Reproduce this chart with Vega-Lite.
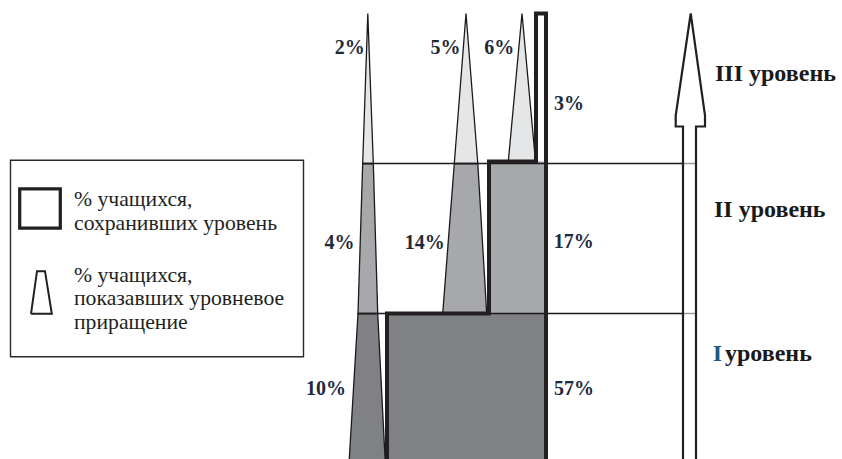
{
  "$schema": "https://vega.github.io/schema/vega-lite/v6.json",
  "width": 842,
  "height": 459,
  "autosize": {"type": "fit", "contains": "padding"},
  "padding": 0,
  "background": "white",
  "config": {"view": {"stroke": null}, "axis": {"disable": true}},
  "datasets": {
    "tri": [
      {"seg": "a1", "level": "I", "y": 0, "xl": 349, "xr": 385.3},
      {"seg": "a1", "level": "I", "y": 1, "xl": 358, "xr": 377.7},
      {"seg": "a2", "level": "II", "y": 1, "xl": 358, "xr": 377.7},
      {"seg": "a2", "level": "II", "y": 2, "xl": 362.7, "xr": 373.3},
      {"seg": "a3", "level": "III", "y": 2, "xl": 362.7, "xr": 373.3},
      {"seg": "a3", "level": "III", "y": 3, "xl": 367.8, "xr": 367.8},
      {"seg": "b2", "level": "II", "y": 1, "xl": 442.7, "xr": 486.7},
      {"seg": "b2", "level": "II", "y": 2, "xl": 454.3, "xr": 477.8},
      {"seg": "b3", "level": "III", "y": 2, "xl": 454.3, "xr": 477.8},
      {"seg": "b3", "level": "III", "y": 3, "xl": 466, "xr": 466},
      {"seg": "c3", "level": "III", "y": 2.013, "xl": 508.3, "xr": 535.5},
      {"seg": "c3", "level": "III", "y": 3, "xl": 522, "xr": 522}
    ],
    "bars": [
      {"level": "I", "x": 387, "x2": 546, "y": 0, "y2": 1},
      {"level": "II", "x": 489, "x2": 546, "y": 1, "y2": 2.013}
    ],
    "outline": [
      {"i": 0, "x": 387, "y": 0},
      {"i": 1, "x": 387, "y": 1},
      {"i": 2, "x": 489, "y": 1},
      {"i": 3, "x": 489, "y": 2.013},
      {"i": 4, "x": 536, "y": 2.013},
      {"i": 5, "x": 536, "y": 3.0},
      {"i": 6, "x": 546, "y": 3.0},
      {"i": 7, "x": 546, "y": 0}
    ],
    "arrow": [
      {"i": 0, "x": 683, "y": 0},
      {"i": 1, "x": 683, "y": 2.2467},
      {"i": 2, "x": 675.7, "y": 2.2467},
      {"i": 3, "x": 675.7, "y": 2.32},
      {"i": 4, "x": 690.7, "y": 3.0},
      {"i": 5, "x": 705, "y": 2.32},
      {"i": 6, "x": 705, "y": 2.2467},
      {"i": 7, "x": 696, "y": 2.2467},
      {"i": 8, "x": 696, "y": 0}
    ],
    "levels": [
      {"y": 2, "x": 362.7, "x2": 683, "part": "out"},
      {"y": 1, "x": 358, "x2": 683, "part": "out"},
      {"y": 2, "x": 683, "x2": 695, "part": "in"},
      {"y": 1, "x": 683, "x2": 695, "part": "in"}
    ],
    "legendbox": [
      {"kind": "box", "x": 10.5, "x2": 303.5, "y": 0.712, "y2": 2.0213},
      {"kind": "square", "x": 19.7, "x2": 60.3, "y": 1.5687, "y2": 1.8313}
    ],
    "trap": [
      {"i": 0, "x": 31, "y": 0.998},
      {"i": 1, "x": 37, "y": 1.282},
      {"i": 2, "x": 45, "y": 1.282},
      {"i": 3, "x": 51.8, "y": 0.998},
      {"i": 4, "x": 31, "y": 0.998}
    ],
    "pct": [
      {"t": "2%", "x": 349.7, "y": 2.7333},
      {"t": "5%", "x": 445.5, "y": 2.7333},
      {"t": "6%", "x": 499.2, "y": 2.7333},
      {"t": "3%", "x": 569, "y": 2.358},
      {"t": "4%", "x": 339.5, "y": 1.4313},
      {"t": "14%", "x": 424.7, "y": 1.4313},
      {"t": "17%", "x": 573.8, "y": 1.438},
      {"t": "10%", "x": 326, "y": 0.46},
      {"t": "57%", "x": 574, "y": 0.46}
    ],
    "lvl": [
      {"t": "III уровень", "x": 715, "y": 2.5533},
      {"t": "II уровень", "x": 714, "y": 1.642},
      {"t": "уровень", "x": 725, "y": 0.682}
    ],
    "lvlI": [
      {"t": "I", "x": 712.7, "y": 0.682}
    ],
    "legtext": [
      {"t": "% учащихся,", "x": 74, "y": 1.72},
      {"t": "сохранивших уровень", "x": 74, "y": 1.5567},
      {"t": "% учащихся,", "x": 74, "y": 1.2133},
      {"t": "показавших уровневое", "x": 74, "y": 1.06},
      {"t": "приращение", "x": 74, "y": 0.9}
    ]
  },
  "layer": [
    {
      "data": {"name": "tri"},
      "mark": {"type": "area", "orient": "horizontal", "stroke": "#1a1a1a", "strokeWidth": 1.3, "clip": true},
      "encoding": {
        "y": {"field": "y", "type": "quantitative", "scale": {"domain": [0.03, 3.09], "nice": false, "zero": false}, "axis": null},
        "x": {"field": "xl", "type": "quantitative", "scale": {"domain": [0, 842], "nice": false, "zero": false}, "axis": null},
        "x2": {"field": "xr"},
        "detail": {"field": "seg"},
        "fill": {"field": "level", "type": "nominal", "scale": {"domain": ["I", "II", "III"], "range": ["#808184", "#a7a8ab", "#e5e6e7"]}, "legend": null}
      }
    },
    {
      "data": {"name": "bars"},
      "mark": {"type": "rect", "clip": true},
      "encoding": {
        "x": {"field": "x", "type": "quantitative", "scale": {"domain": [0, 842], "nice": false, "zero": false}, "axis": null},
        "x2": {"field": "x2"},
        "y": {"field": "y", "type": "quantitative", "scale": {"domain": [0.03, 3.09], "nice": false, "zero": false}, "axis": null},
        "y2": {"field": "y2"},
        "fill": {"field": "level", "type": "nominal", "scale": {"domain": ["I", "II", "III"], "range": ["#808184", "#a7a8ab", "#e5e6e7"]}, "legend": null}
      }
    },
    {
      "data": {"name": "levels"},
      "mark": {"type": "rule", "strokeWidth": 1.5},
      "encoding": {
        "x": {"field": "x", "type": "quantitative", "scale": {"domain": [0, 842], "nice": false, "zero": false}, "axis": null},
        "x2": {"field": "x2"},
        "y": {"field": "y", "type": "quantitative", "scale": {"domain": [0.03, 3.09], "nice": false, "zero": false}, "axis": null},
        "stroke": {"field": "part", "type": "nominal", "scale": {"domain": ["out", "in"], "range": ["#1a1a1a", "#9a9a9a"]}, "legend": null}
      }
    },
    {
      "data": {"name": "outline"},
      "mark": {"type": "line", "stroke": "#231f20", "strokeWidth": 4, "strokeJoin": "miter", "clip": true},
      "encoding": {
        "x": {"field": "x", "type": "quantitative", "scale": {"domain": [0, 842], "nice": false, "zero": false}, "axis": null},
        "y": {"field": "y", "type": "quantitative", "scale": {"domain": [0.03, 3.09], "nice": false, "zero": false}, "axis": null},
        "order": {"field": "i", "type": "quantitative"}
      }
    },
    {
      "data": {"name": "arrow"},
      "mark": {"type": "line", "stroke": "#231f20", "strokeWidth": 2.2, "strokeJoin": "miter", "clip": true},
      "encoding": {
        "x": {"field": "x", "type": "quantitative", "scale": {"domain": [0, 842], "nice": false, "zero": false}, "axis": null},
        "y": {"field": "y", "type": "quantitative", "scale": {"domain": [0.03, 3.09], "nice": false, "zero": false}, "axis": null},
        "order": {"field": "i", "type": "quantitative"}
      }
    },
    {
      "data": {"name": "legendbox"},
      "transform": [{"filter": "datum.kind == 'box'"}],
      "mark": {"type": "rect", "fill": null, "stroke": "#2a2a2a", "strokeWidth": 1.4},
      "encoding": {
        "x": {"field": "x", "type": "quantitative", "scale": {"domain": [0, 842], "nice": false, "zero": false}, "axis": null},
        "x2": {"field": "x2"},
        "y": {"field": "y", "type": "quantitative", "scale": {"domain": [0.03, 3.09], "nice": false, "zero": false}, "axis": null},
        "y2": {"field": "y2"}
      }
    },
    {
      "data": {"name": "legendbox"},
      "transform": [{"filter": "datum.kind == 'square'"}],
      "mark": {"type": "rect", "fill": null, "stroke": "#231f20", "strokeWidth": 3.2},
      "encoding": {
        "x": {"field": "x", "type": "quantitative", "scale": {"domain": [0, 842], "nice": false, "zero": false}, "axis": null},
        "x2": {"field": "x2"},
        "y": {"field": "y", "type": "quantitative", "scale": {"domain": [0.03, 3.09], "nice": false, "zero": false}, "axis": null},
        "y2": {"field": "y2"}
      }
    },
    {
      "data": {"name": "trap"},
      "mark": {"type": "line", "stroke": "#231f20", "strokeWidth": 2, "strokeJoin": "miter"},
      "encoding": {
        "x": {"field": "x", "type": "quantitative", "scale": {"domain": [0, 842], "nice": false, "zero": false}, "axis": null},
        "y": {"field": "y", "type": "quantitative", "scale": {"domain": [0.03, 3.09], "nice": false, "zero": false}, "axis": null},
        "order": {"field": "i", "type": "quantitative"}
      }
    },
    {
      "data": {"name": "pct"},
      "mark": {"type": "text", "font": "Liberation Serif", "fontWeight": "bold", "fontSize": 20, "color": "#1e2a3a", "align": "center", "baseline": "alphabetic"},
      "encoding": {
        "x": {"field": "x", "type": "quantitative", "scale": {"domain": [0, 842], "nice": false, "zero": false}, "axis": null},
        "y": {"field": "y", "type": "quantitative", "scale": {"domain": [0.03, 3.09], "nice": false, "zero": false}, "axis": null},
        "text": {"field": "t"}
      }
    },
    {
      "data": {"name": "lvl"},
      "mark": {"type": "text", "font": "Liberation Serif", "fontWeight": "bold", "fontSize": 24, "color": "#1a1a1a", "align": "left", "baseline": "alphabetic"},
      "encoding": {
        "x": {"field": "x", "type": "quantitative", "scale": {"domain": [0, 842], "nice": false, "zero": false}, "axis": null},
        "y": {"field": "y", "type": "quantitative", "scale": {"domain": [0.03, 3.09], "nice": false, "zero": false}, "axis": null},
        "text": {"field": "t"}
      }
    },
    {
      "data": {"name": "lvlI"},
      "mark": {"type": "text", "font": "Liberation Serif", "fontWeight": "bold", "fontSize": 24, "color": "#1d5a7c", "align": "left", "baseline": "alphabetic"},
      "encoding": {
        "x": {"field": "x", "type": "quantitative", "scale": {"domain": [0, 842], "nice": false, "zero": false}, "axis": null},
        "y": {"field": "y", "type": "quantitative", "scale": {"domain": [0.03, 3.09], "nice": false, "zero": false}, "axis": null},
        "text": {"field": "t"}
      }
    },
    {
      "data": {"name": "legtext"},
      "mark": {"type": "text", "font": "Liberation Serif", "fontSize": 21.7, "color": "#231f20", "align": "left", "baseline": "alphabetic"},
      "encoding": {
        "x": {"field": "x", "type": "quantitative", "scale": {"domain": [0, 842], "nice": false, "zero": false}, "axis": null},
        "y": {"field": "y", "type": "quantitative", "scale": {"domain": [0.03, 3.09], "nice": false, "zero": false}, "axis": null},
        "text": {"field": "t"}
      }
    }
  ]
}
